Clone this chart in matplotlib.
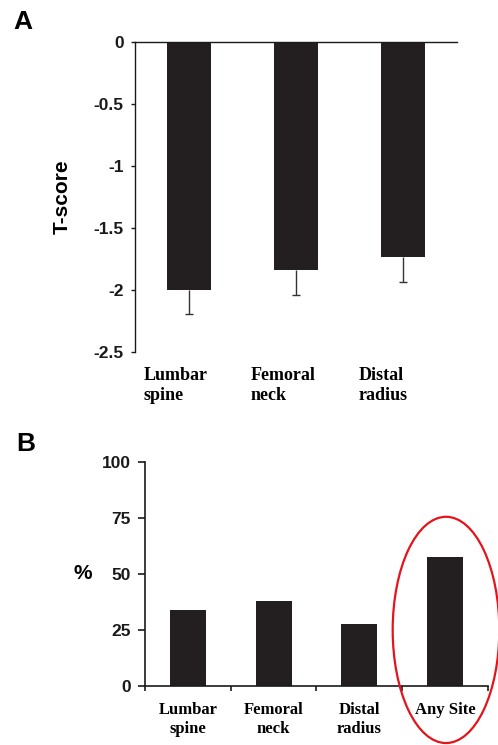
import matplotlib
matplotlib.use("Agg")
import matplotlib.pyplot as plt
import numpy as np
from matplotlib.patches import Ellipse

# Panel A: mean T-score per site, with one-sided SD bars
sitesA = ["Lumbar\nspine", "Femoral\nneck", "Distal\nradius"]
tScore = [-2.0, -1.84, -1.74]
tErr = [0.2, 0.2, 0.2]
yTicksA = [0, -0.5, -1, -1.5, -2, -2.5]
yTickLabelsA = ["0", "-0.5", "-1", "-1.5", "-2", "-2.5"]

# Panel B: percentage of patients with low BMD per site
sitesB = ["Lumbar\nspine", "Femoral\nneck", "Distal\nradius", "Any Site"]
pct = [33.8, 37.6, 27.6, 57.4]
yTicksB = [0, 25, 50, 75, 100]

barColor = "#231f20"
lineColor = "#1a1a1a"
sansBold = dict(family="Liberation Sans", weight="bold")
serifBold = dict(family="Liberation Serif", weight="bold")

fig = plt.figure(figsize=(4.98, 7.45), dpi=100)

# ---- Panel A ----
axA = fig.add_axes([0.271, 0.528, 0.647, 0.416])
xA = np.arange(len(sitesA))
_, caps, _ = axA.errorbar(xA, tScore, yerr=[tErr, np.zeros(len(tErr))], fmt="none",
                          ecolor="#333333", elinewidth=1.0, capsize=3, capthick=1.0, zorder=1)
caps[1].set_visible(False)  # only the lower cap is drawn
axA.bar(xA, tScore, width=0.41, color=barColor, zorder=2)
axA.set_xlim(-0.5, 2.5)
axA.set_ylim(-2.5, 0)
for side in ("right", "bottom"):
    axA.spines[side].set_visible(False)
for side in ("left", "top"):
    axA.spines[side].set_color(lineColor)
    axA.spines[side].set_linewidth(1.0)
axA.set_yticks(yTicksA)
axA.set_yticklabels(yTickLabelsA, fontsize=12.5, **sansBold)
axA.tick_params(axis="y", direction="out", length=3, width=1.0, pad=5, colors=lineColor)
axA.set_xticks(xA - 0.42)
axA.set_xticklabels(sitesA, fontsize=13, ha="left", **serifBold)
axA.tick_params(axis="x", length=0, pad=11)
axA.set_ylabel("T-score", fontsize=15, **sansBold)
axA.yaxis.set_label_coords(-0.196, 0.5)

# ---- Panel B ----
axB = fig.add_axes([0.291, 0.0796, 0.689, 0.3007])
xB = np.arange(len(sitesB))
axB.bar(xB, pct, width=0.42, color=barColor, zorder=2)
axB.set_xlim(-0.5, 3.5)
axB.set_ylim(0, 100)
for side in ("right", "top"):
    axB.spines[side].set_visible(False)
for side in ("left", "bottom"):
    axB.spines[side].set_color(lineColor)
    axB.spines[side].set_linewidth(1.2)
axB.set_yticks(yTicksB)
axB.set_yticklabels([str(v) for v in yTicksB], fontsize=12.5, **sansBold)
axB.tick_params(axis="y", direction="out", length=5, width=1.2, pad=5, colors=lineColor)
axB.set_xticks(xB)
axB.set_xticklabels(sitesB, fontsize=12, linespacing=1.25, **serifBold)
axB.set_xticks(np.arange(-0.5, 4.0, 1.0), minor=True)
axB.tick_params(axis="x", which="major", length=0, pad=12)
axB.tick_params(axis="x", which="minor", direction="out", length=3.6, width=1.2, colors=lineColor)
axB.set_ylabel("%", rotation=0, fontsize=15, va="center", ha="center", **sansBold)
axB.yaxis.set_label_coords(-0.181, 0.503)

# highlight ring around the "any site" bar
ring = Ellipse((3.01, 24.9), width=1.243, height=101, fill=False,
               edgecolor="#e3141b", linewidth=1.6, clip_on=False, zorder=3)
axB.add_patch(ring)

fig.text(0.026, 0.961, "A", fontsize=19, va="baseline", **sansBold)
fig.text(0.032, 0.395, "B", fontsize=19, va="baseline", **sansBold)

fig.savefig("out.png", dpi=100)
